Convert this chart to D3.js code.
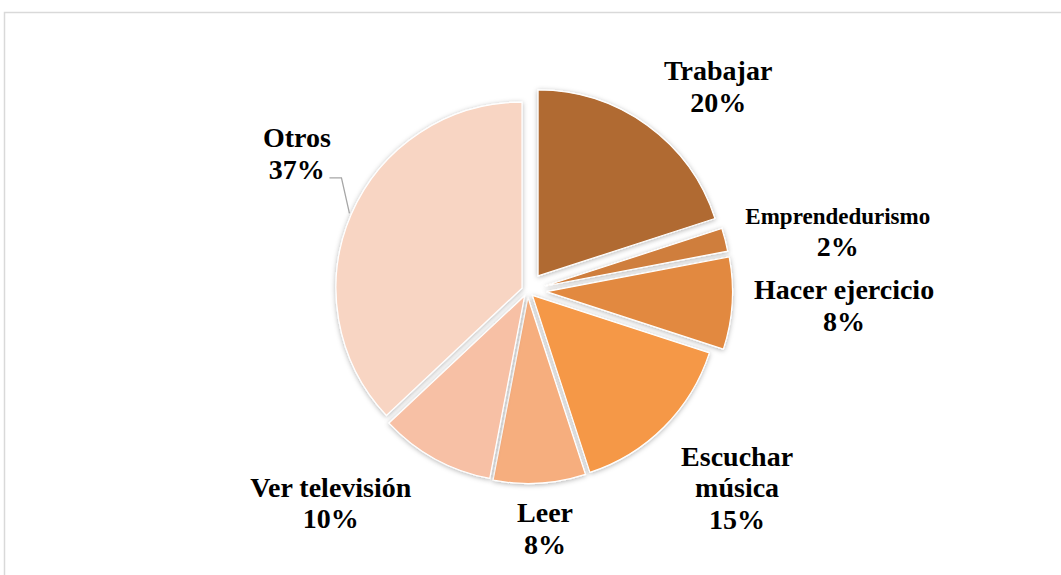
<!DOCTYPE html>
<html>
<head>
<meta charset="utf-8">
<script src="https://cdn.jsdelivr.net/npm/d3@7"></script>
<style>
  html, body { margin: 0; padding: 0; background: #fff; }
  svg { display: block; }
</style>
</head>
<body>
<script>
// data (percentages)
const categories = ["Trabajar", "Emprendedurismo", "Hacer ejercicio", "Escuchar música", "Leer", "Ver televisión", "Otros"];
const values = [20, 2, 8, 15, 8, 10, 37];
const colors = ["#B06A31", "#CF7E3D", "#E2893F", "#F59846", "#F6AE7E", "#F7C0A5", "#F8D5C3"];

// layout / style
const W = 1061, H = 575;
const cx = 527.5, cy = 290.5, R = 186;
const explode = [18, 18, 19, 7, 7, 6, 6];           // slice pull-out, px
const labelNudge = [[7.1, 279], [3.5, 316], [-0.8, 317], [-1.7, 288], [-0.6, 239], [13.9, 290], [7.2, 268]]; // [deg off bisector, distance]
const labelBreak = { "Escuchar música": ["Escuchar", "música"] };
const font = "'Liberation Serif', 'Times New Roman', serif";
const pitch = 31.5;

var svg = d3.select("body").append("svg")
    .attr("width", W)
    .attr("height", H)

//frame
svg.append("rect")
  .attr("x", 4.5).attr("y", 12.5)
  .attr("width", 1100).attr("height", 620)
  .style("fill", "white")
  .style("stroke", "#D9D9D9")
  .style("stroke-width", 1.5)

//shadow filter
var defs = svg.append("defs")
defs.append("filter").attr("id", "shadow")
    .attr("x", "-20%").attr("y", "-20%").attr("width", "140%").attr("height", "140%")
  .append("feDropShadow")
    .attr("dx", 0).attr("dy", 1)
    .attr("stdDeviation", 2.5)
    .attr("flood-color", "#000")
    .attr("flood-opacity", 0.3)

var pie = d3.pie().sort(null).value(d => d)
var arcs = pie(values)
var arc = d3.arc().innerRadius(0).outerRadius(R)

var g = svg.append("g").attr("transform", `translate(${cx},${cy})`)

const mid = (d) => (d.startAngle + d.endAngle) / 2
const polar = (a, r) => [Math.sin(a) * r, -Math.cos(a) * r]

g.selectAll("path.slice")
  .data(arcs)
  .enter()
  .append("path")
  .attr("class", "slice")
  .attr("transform", (d, i) => {
    const p = polar(mid(d), explode[i])
    return `translate(${p[0]},${p[1]})`
  })
  .attr("d", arc)
  .style("fill", (d, i) => colors[i])
  .style("stroke", "white")
  .style("stroke-width", 1.2)
  .attr("filter", "url(#shadow)")

//labels
arcs.forEach(function(d, i) {
  const a = mid(d) + labelNudge[i][0] * Math.PI / 180
  const p = polar(a, labelNudge[i][1])
  const name = categories[i]
  const lines = (labelBreak[name] || [name]).map(t => ({ t: t, size: name === "Emprendedurismo" ? 23 : 28 }))
  lines.push({ t: values[i] + "%", size: 28 })
  const n = lines.length
  const y0 = p[1] - (n - 1) * pitch / 2 + 9
  const lab = g.append("text")
    .attr("text-anchor", "middle")
    .attr("font-family", font)
    .attr("font-weight", "bold")
    .attr("fill", "#000")
  lines.forEach(function(l, k) {
    lab.append("tspan")
      .attr("x", p[0])
      .attr("y", y0 + k * pitch)
      .attr("font-size", l.size + "px")
      .text(l.t)
  })
  // leader line for Otros
  if (name === "Otros") {
    const e = polar(mid(d), R + explode[i] + 2)
    const ly = y0 + (n - 1) * pitch - 1
    g.append("polyline")
      .attr("points", [[e[0] - 20, ly], [e[0] - 8, ly], e].map(q => q.join(",")).join(" "))
      .style("fill", "none")
      .style("stroke", "#A6A6A6")
      .style("stroke-width", 1.3)
  }
})
</script>
</body>
</html>
